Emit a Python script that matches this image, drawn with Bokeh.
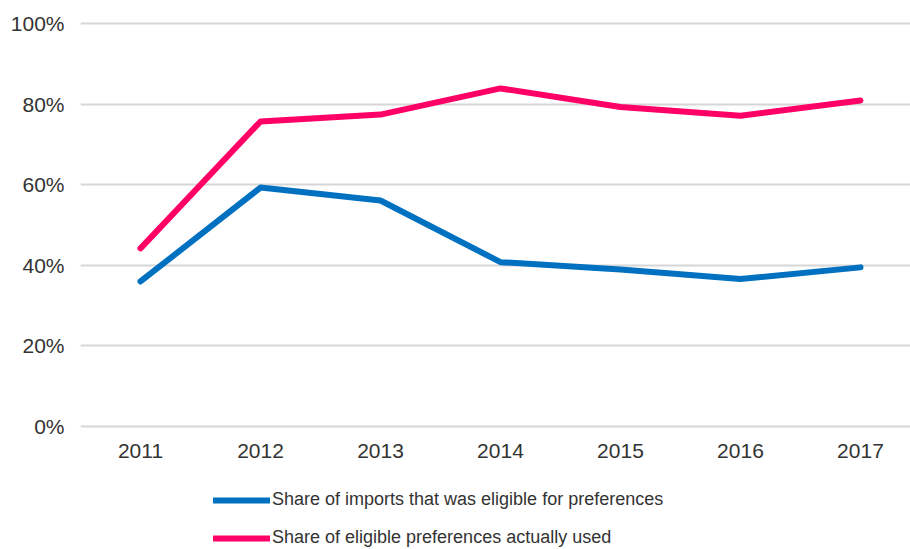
from bokeh.plotting import figure
from bokeh.models import Legend, LegendItem, FixedTicker, PrintfTickFormatter, Range1d
from bokeh.embed import file_html
from bokeh.resources import INLINE

years = [2011, 2012, 2013, 2014, 2015, 2016, 2017]
eligible = [36.0, 59.3, 56.1, 40.8, 39.0, 36.6, 39.5]
used = [44.2, 75.7, 77.4, 83.9, 79.3, 77.1, 80.9]
y_ticks = [0, 20, 40, 60, 80, 100]
label_eligible = "Share of imports that was eligible for preferences"
label_used = "Share of eligible preferences actually used"

FONT = "Liberation Sans"

p = figure(width=910, height=549, output_backend="svg", toolbar_location=None,
           x_range=Range1d(2010.5, 2017.417), y_range=Range1d(-30.5, 101),
           min_border_left=80, min_border_right=0, min_border_top=19, min_border_bottom=0)
p.outline_line_color = None
p.background_fill_color = "white"
p.border_fill_color = "white"

r1 = p.line(years, eligible, line_color="#0070C0", line_width=6, line_cap="round", line_join="round")
r2 = p.line(years, used, line_color="#FF0066", line_width=6, line_cap="round", line_join="round")

p.xaxis.ticker = FixedTicker(ticks=years)
p.xaxis.fixed_location = 0
p.yaxis.ticker = FixedTicker(ticks=y_ticks)
p.yaxis.formatter = PrintfTickFormatter(format="%d%%")
for ax in (p.xaxis[0], p.yaxis[0]):
    ax.axis_line_color = None
    ax.major_tick_line_color = None
    ax.minor_tick_line_color = None
    ax.major_tick_in = 0
    ax.major_tick_out = 0
    ax.minor_tick_in = 0
    ax.minor_tick_out = 0
    ax.major_label_text_font = FONT
    ax.major_label_text_font_size = "21px"
    ax.major_label_text_color = "#333333"
p.xaxis.major_label_standoff = 17
p.yaxis.major_label_standoff = 16
p.xgrid.grid_line_color = None
p.ygrid.grid_line_color = "#D6D6D6"
p.ygrid.grid_line_width = 2

legend = Legend(items=[LegendItem(label=label_eligible, renderers=[r1]),
                       LegendItem(label=label_used, renderers=[r2])],
                orientation="vertical", location=(133, 1))
legend.label_text_font = FONT
legend.label_text_font_size = "18px"
legend.label_text_color = "#333333"
legend.glyph_width = 57
legend.glyph_height = 20
legend.label_height = 20
legend.label_standoff = 2
legend.spacing = 17
legend.padding = 0
legend.margin = 0
legend.border_line_color = None
legend.background_fill_alpha = 0
p.add_layout(legend, "center")

open("out.html", "w").write(file_html(p, INLINE))
